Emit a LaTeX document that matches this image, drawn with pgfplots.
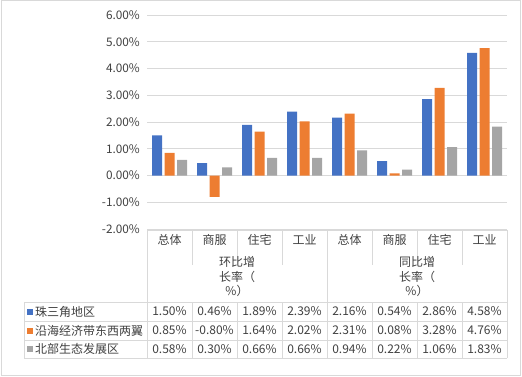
\documentclass[border=0pt]{standalone}
\usepackage{pgfplots}
\pgfplotsset{compat=1.18}
\usepackage{fontspec}
\setmainfont{Noto Sans CJK SC}
\definecolor{cblue}{HTML}{4472C4}
\definecolor{corange}{HTML}{ED7D31}
\definecolor{cgray}{HTML}{A5A5A5}
\definecolor{gridc}{HTML}{D9D9D9}
\definecolor{txt}{HTML}{404040}
\begin{document}
\begin{tikzpicture}[x=1pt,y=1pt]
\useasboundingbox (0,0) rectangle (522,376);
\draw[gridc, line width=1pt] (1,1) rectangle (520.5,375);
\begin{axis}[at={(147pt,147pt)}, anchor=south west, scale only axis,
  width=360pt, height=214pt,
  xmin=-0.5, xmax=7.5, ymin=-2, ymax=6, ytick={-2,-1,0,1,2,3,4,5,6}, xtick=\empty,
  axis line style={draw=none}, major tick length=0pt,
  ymajorgrids, grid style={gridc, line width=0.8pt},
  ybar=2.5pt, bar width=10pt,
  /pgf/number format/assume math mode=true,
  yticklabel={\pgfmathprintnumber[fixed,fixed zerofill,precision=2]{\tick}\%},
  yticklabel style={font=\fontsize{11.8}{14}\selectfont, text=txt, inner sep=0pt, xshift=-7pt},
]
\addplot[fill=cblue, draw=none] coordinates {(0,1.50) (1,0.46) (2,1.89) (3,2.39) (4,2.16) (5,0.54) (6,2.86) (7,4.58)};
\addplot[fill=corange, draw=none] coordinates {(0,0.85) (1,-0.80) (2,1.64) (3,2.02) (4,2.31) (5,0.08) (6,3.28) (7,4.76)};
\addplot[fill=cgray, draw=none] coordinates {(0,0.58) (1,0.30) (2,0.66) (3,0.66) (4,0.94) (5,0.22) (6,1.06) (7,1.83)};
\end{axis}
% table lines
\begin{scope}[gridc, line width=0.8pt]
\draw (147,146) -- (507,146);
\foreach \y in {74,55,36,18} \draw (24,\y) -- (507,\y);
\foreach \x in {147,327,507} \draw (\x,146) -- (\x,18);
\foreach \x in {192,237,282,372,417,462} {\draw (\x,146) -- (\x,111); \draw (\x,74) -- (\x,18);}
\draw (24,74) -- (24,18);
\end{scope}
\begin{scope}[every node/.style={font=\fontsize{12}{14.5}\selectfont, text=txt, inner sep=0pt}]
\foreach \c [count=\i from 0] in {总体,商服,住宅,工业,总体,商服,住宅,工业}
  \node at (169.5+45*\i,136) {\c};
\node[align=center] at (237,99) {环比增\\长率（\\\%）};
\node[align=center] at (417,99) {同比增\\长率（\\\%）};
\fill[cblue] (27,61.5) rectangle (33,67.5);
\fill[corange] (27,42.5) rectangle (33,48.5);
\fill[cgray] (27,24) rectangle (33,30);
\node[anchor=west] at (35,64.5) {珠三角地区};
\node[anchor=west] at (35,45.5) {沿海经济带东西两翼};
\node[anchor=west] at (35,27) {北部生态发展区};
\foreach \v [count=\i from 0] in {1.50,0.46,1.89,2.39,2.16,0.54,2.86,4.58}
  \node at (169.5+45*\i,64.5) {\v\%};
\foreach \v [count=\i from 0] in {0.85,-0.80,1.64,2.02,2.31,0.08,3.28,4.76}
  \node at (169.5+45*\i,45.5) {\v\%};
\foreach \v [count=\i from 0] in {0.58,0.30,0.66,0.66,0.94,0.22,1.06,1.83}
  \node at (169.5+45*\i,27) {\v\%};
\end{scope}
\end{tikzpicture}
\end{document}
